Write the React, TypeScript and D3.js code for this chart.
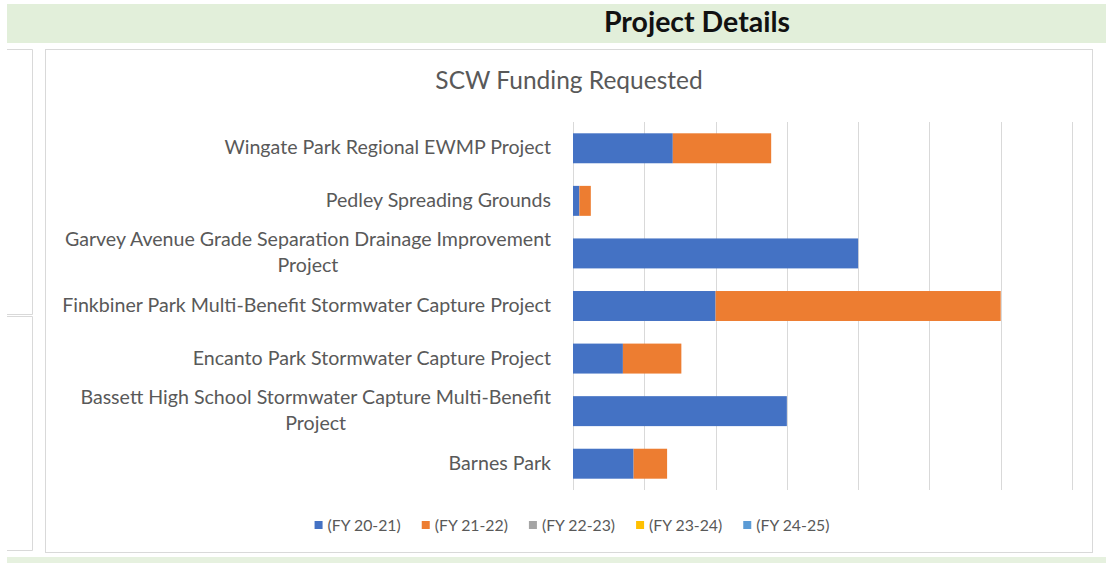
import React, { useEffect, useRef } from "react";
import * as d3 from "d3";

const projects = [
  "Wingate Park Regional EWMP Project",
  "Pedley Spreading Grounds",
  "Garvey Avenue Grade Separation Drainage Improvement Project",
  "Finkbiner Park Multi-Benefit Stormwater Capture Project",
  "Encanto Park Stormwater Capture Project",
  "Bassett High School Stormwater Capture Multi-Benefit Project",
  "Barnes Park",
];
const seriesNames = ["(FY 20-21)", "(FY 21-22)", "(FY 22-23)", "(FY 23-24)", "(FY 24-25)"];
const fy2021 = [1.4, 0.09, 4.0, 2.0, 0.7, 3.0, 0.85];
const fy2122 = [1.38, 0.16, 0, 4.0, 0.82, 0, 0.47];
const fy2223 = [0, 0, 0, 0, 0, 0, 0];
const fy2324 = [0, 0, 0, 0, 0, 0, 0];
const fy2425 = [0, 0, 0, 0, 0, 0, 0];
const xTicks = [0, 1, 2, 3, 4, 5, 6, 7];
const seriesColors = ["#4472C4", "#ED7D31", "#A5A5A5", "#FFC000", "#5B9BD5"];
const headerText = "Project Details";
const chartTitle = "SCW Funding Requested";

const FONT = "Lato, 'Open Sans', sans-serif";

function wrapLabel(s: string, maxChars: number): string[] {
  if (s.length <= maxChars) return [s];
  const idx = s.lastIndexOf(" ", maxChars);
  return [s.slice(0, idx), s.slice(idx + 1)];
}

export default function App() {
  const ref = useRef<SVGSVGElement | null>(null);

  useEffect(() => {
    const svg = d3.select(ref.current);
    svg.selectAll("*").remove();
    const W = 1106, H = 563;

    svg.append("rect").attr("width", W).attr("height", H).attr("fill", "#ffffff");
    // header band
    svg.append("rect").attr("x", 7).attr("y", 4).attr("width", W - 7).attr("height", 39).attr("fill", "#e2efda");
    svg.append("rect").attr("x", 7).attr("y", 557).attr("width", W - 7).attr("height", 6).attr("fill", "#e6f1df");
    svg.append("text").attr("x", 697).attr("y", 32).attr("text-anchor", "middle")
      .attr("font-family", FONT).attr("font-weight", 700).attr("font-size", 28.5).attr("fill", "#111")
      .text(headerText);

    // left panel lines
    const lp = svg.append("g").attr("stroke", "#d9d9d9").attr("fill", "none");
    lp.append("path").attr("d", "M7,49.5H32.5V314.5H7");
    lp.append("path").attr("d", "M7,316.5H32.5V550.5H7");

    // chart box
    svg.append("rect").attr("x", 45.5).attr("y", 49.5).attr("width", 1047).attr("height", 503)
      .attr("fill", "#fff").attr("stroke", "#d9d9d9");

    svg.append("text").attr("x", 569).attr("y", 89).attr("text-anchor", "middle")
      .attr("font-family", FONT).attr("font-size", 24.5).attr("fill", "#595959").text(chartTitle);

    const x = d3.scaleLinear().domain([0, 7]).range([573, 1072]);
    const y = d3.scaleBand<string>().domain(projects).range([122, 490]).paddingInner(0.43).paddingOuter(0.215);

    // gridlines
    svg.append("g").selectAll("line").data(xTicks).join("line")
      .attr("x1", (d) => Math.round(x(d)) + 0.5).attr("x2", (d) => Math.round(x(d)) + 0.5)
      .attr("y1", 122).attr("y2", 490).attr("stroke", "#d9d9d9").attr("stroke-width", 1);

    const seriesData = [fy2021, fy2122, fy2223, fy2324, fy2425];
    const rows = projects.map((p, i) => {
      const r: any = { project: p };
      seriesNames.forEach((s, k) => (r[s] = seriesData[k][i]));
      return r;
    });
    const stacked = d3.stack<any>().keys(seriesNames)(rows);

    svg.append("g").selectAll("g").data(stacked).join("g")
      .attr("fill", (_d, i) => seriesColors[i])
      .selectAll("rect").data((d) => d).join("rect")
      .attr("x", (d) => x(d[0]))
      .attr("width", (d) => Math.max(0, x(d[1]) - x(d[0])))
      .attr("y", (d) => y(d.data.project)!)
      .attr("height", y.bandwidth());

    // category labels
    const lg = svg.append("g").attr("font-family", FONT).attr("font-size", 19.6).attr("fill", "#595959");
    projects.forEach((p) => {
      const cy = y(p)! + y.bandwidth() / 2;
      const lines = wrapLabel(p, 56);
      if (lines.length === 1) {
        lg.append("text").attr("x", 551).attr("y", cy + 6).attr("text-anchor", "end").text(p);
      } else {
        const t1 = lg.append("text").attr("x", 551).attr("y", cy - 13 + 6).attr("text-anchor", "end").text(lines[0]);
        const w1 = (t1.node() as SVGTextElement).getComputedTextLength();
        lg.append("text").attr("x", 551 - w1 / 2).attr("y", cy + 13 + 6).attr("text-anchor", "middle").text(lines[1]);
      }
    });

    // legend
    const leg = svg.append("g").attr("font-family", FONT).attr("font-size", 15.8).attr("fill", "#595959");
    const items = seriesNames.map((s, i) => {
      const g = leg.append("g");
      g.append("rect").attr("x", 0).attr("y", -4).attr("width", 8).attr("height", 8).attr("fill", seriesColors[i]);
      const t = g.append("text").attr("x", 13).attr("y", 5.5).text(s);
      const w = 13 + (t.node() as SVGTextElement).getComputedTextLength();
      return { g, w };
    });
    const gap = 21;
    const total = d3.sum(items, (d) => d.w) + gap * (items.length - 1);
    let cx = 572 - total / 2;
    items.forEach((it) => {
      it.g.attr("transform", `translate(${cx},525)`);
      cx += it.w + gap;
    });
  }, []);

  return (
    <svg ref={ref} width={1106} height={563}
      style={{ position: "absolute", left: 0, top: 0, display: "block" }} />
  );
}
